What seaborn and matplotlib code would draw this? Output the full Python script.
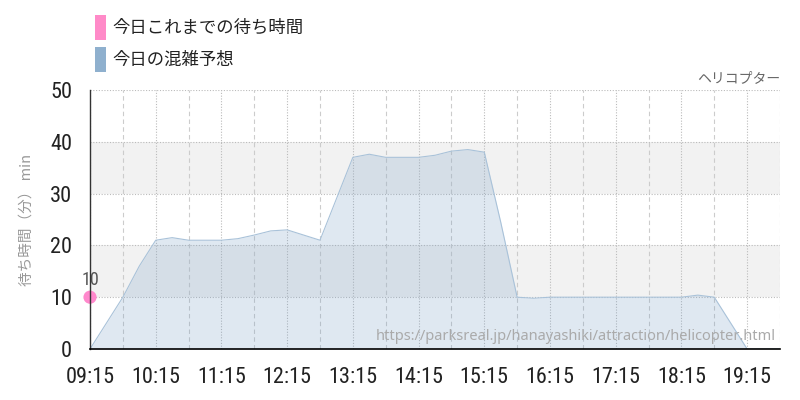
import numpy as np
import pandas as pd
import matplotlib
matplotlib.use('Agg')
import matplotlib.pyplot as plt
from matplotlib.patches import Rectangle
from matplotlib import font_manager
import seaborn as sns

# 15分ごとの混雑予想（分）
times = ['09:15', '09:30', '09:45', '10:00', '10:15', '10:30', '10:45', '11:00',
         '11:15', '11:30', '11:45', '12:00', '12:15', '12:30', '12:45', '13:00',
         '13:15', '13:30', '13:45', '14:00', '14:15', '14:30', '14:45', '15:00',
         '15:15', '15:30', '15:45', '16:00', '16:15', '16:30', '16:45', '17:00',
         '17:15', '17:30', '17:45', '18:00', '18:15', '18:30', '18:45', '19:00',
         '19:15', '19:30', '19:45']
forecast = [0, 5, 10, 16, 21, 21.5, 21, 21,
            21, 21.3, 22, 22.8, 23, 22, 21, 29,
            37, 37.6, 37, 37, 37, 37.4, 38.2, 38.5,
            38, 24.5, 10, 9.8, 10, 10, 10, 10,
            10, 10, 10, 10, 10, 10.4, 10, 5,
            0, 0, 0]

# 今日これまでの待ち時間
actual_times = ['09:15']
actual_waits = [10]

tick_labels = ['09:15', '10:15', '11:15', '12:15', '13:15', '14:15',
               '15:15', '16:15', '17:15', '18:15', '19:15']
y_ticks = [0, 10, 20, 30, 40, 50]


def to_hours(t):
    h, m = t.split(':')
    return int(h) + int(m) / 60


df = pd.DataFrame({'time': [to_hours(t) for t in times], 'wait': forecast})
df_act = pd.DataFrame({'time': [to_hours(t) for t in actual_times], 'wait': actual_waits})

# 細めの数字フォントがあれば使う
installed = {f.name for f in font_manager.fontManager.ttflist}
narrow = [n for n in ['Roboto Condensed', 'Liberation Sans Narrow', 'Open Sans Condensed',
                      'DejaVu Sans Condensed'] if n in installed]
num_font = narrow[:1] + ['DejaVu Sans']
num_stretch = 'normal' if narrow and narrow[0] != 'DejaVu Sans Condensed' else 'condensed'

sns.set_style('white')
plt.rcParams['font.family'] = ['Noto Sans CJK JP', 'DejaVu Sans']

fig = plt.figure(figsize=(8, 4), dpi=100)
ax = fig.add_axes([90 / 800, 1 - 349 / 400, 690 / 800, 259 / 400])

x0, x1 = df['time'].min(), df['time'].max()
ax.set_xlim(x0, x1)
ax.set_ylim(0, 50)

# 背景の帯
for lo, hi in [(10, 20), (30, 40)]:
    ax.axhspan(lo, hi, color='#f2f2f2', zorder=0, lw=0)

# グリッド
for y in y_ticks[1:]:
    ax.axhline(y, color='#bbbbbb', lw=0.8, ls=(0, (1, 1.5)), zorder=1)
hours = [to_hours(t) for t in tick_labels]
for h in hours:
    ax.axvline(h, color='#bbbbbb', lw=0.8, ls=(0, (1, 1.5)), zorder=1)
for h in hours:
    ax.axvline(h + 0.5, color='#cccccc', lw=0.8, ls=(0, (4, 3)), zorder=1)

# 混雑予想
ax.fill_between(df['time'], df['wait'], 0, color=(120 / 255, 159 / 255, 198 / 255),
                alpha=0.23, lw=0, zorder=2)
sns.lineplot(data=df, x='time', y='wait', ax=ax, color='#a9c2d9', lw=0.8, zorder=3)

# 実績
sns.scatterplot(data=df_act, x='time', y='wait', ax=ax, color='#ff88cc', s=90,
                edgecolor='none', zorder=5, clip_on=False)
for _, r in df_act.iterrows():
    ax.text(r['time'], r['wait'] + 1.6, f"{r['wait']:g}", ha='center', va='bottom',
            fontsize=13, color='#555555', family=num_font, stretch=num_stretch)

ax.set_xticks(hours)
ax.set_xticklabels(tick_labels)
ax.set_yticks(y_ticks)
ax.tick_params(axis='both', which='major', length=11, color='#cccccc', width=1,
               labelsize=16, labelcolor='#222222', direction='out', pad=2)
for lab in ax.get_xticklabels() + ax.get_yticklabels():
    lab.set_family(num_font)
    lab.set_stretch(num_stretch)
ax.set_xlabel('')
ax.set_ylabel('待ち時間（分） min', fontsize=10.5, color='#999999', labelpad=12)

for s in ['top', 'right']:
    ax.spines[s].set_visible(False)
ax.spines['left'].set_color('#333333')
ax.spines['left'].set_linewidth(1)
ax.spines['bottom'].set_color('#000000')
ax.spines['bottom'].set_linewidth(1.2)
ax.spines['left'].set_zorder(6)
ax.spines['bottom'].set_zorder(6)

ax.text(1.0, 1.02, 'ヘリコプター', transform=ax.transAxes, ha='right', va='bottom',
        fontsize=10, color='#666666')
ax.text(0.9935, 0.05, 'https://parksreal.jp/hanayashiki/attraction/helicopter.html',
        transform=ax.transAxes, ha='right', va='center', fontsize=10.5, color='#aaaaaa',
        family=['Noto Sans', 'DejaVu Sans'], zorder=7)

# 凡例
legend_items = [('今日これまでの待ち時間', '#ff8ac8'), ('今日の混雑予想', '#8fb0ce')]
for i, (label, c) in enumerate(legend_items):
    top = 15 + i * 32
    fig.patches.append(Rectangle((95 / 800, 1 - (top + 25) / 400), 11 / 800, 25 / 400,
                                 transform=fig.transFigure, color=c, lw=0))
    fig.text(112 / 800, 1 - (top + 12.5) / 400, label, ha='left', va='center',
             fontsize=12.5, color='#222222')

fig.savefig('out.png', dpi=100)
